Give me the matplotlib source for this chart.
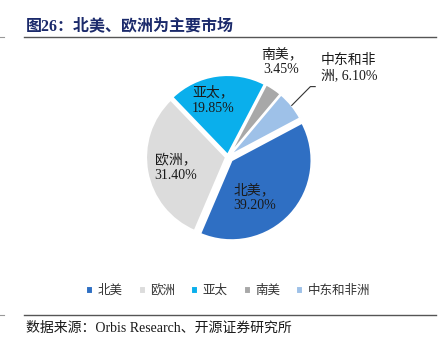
"""
图26：北美、欧洲为主要市场 —— 饼图复刻
"""
import matplotlib
matplotlib.use("Agg")
import matplotlib.pyplot as plt
from matplotlib.lines import Line2D
import numpy as np

# 数据
regions = ["北美", "欧洲", "亚太", "南美", "中东和非洲"]
shares = [39.20, 31.40, 19.85, 3.45, 6.10]
label_texts = ["北美，\n39.20%", "欧洲，\n31.40%", "亚太，\n19.85%",
               "南美，\n3.45%", "中东和非\n洲, 6.10%"]
colors = ["#2F6FC3", "#DCDCDC", "#0AAFEC", "#A8A8A8", "#9EC1E8"]

FONT = ["Liberation Serif", "Noto Sans CJK SC", "DejaVu Sans"]
plt.rcParams["font.family"] = FONT

W, H = 447, 345
fig = plt.figure(figsize=(W / 100, H / 100), dpi=100)


def px(x, y):
    # 像素坐标 -> 画布坐标
    return x / W, 1 - y / H


# 饼图区域：中心 (228,157)，半径 80px
cx, cy, half = 228, 157, 100
ax = fig.add_axes([(cx - half) / W, 1 - (cy + half) / H, 2 * half / W, 2 * half / H])
wedges, _ = ax.pie(shares, colors=colors, startangle=28, counterclock=False,
                   explode=[0.06, 0.025, 0.025, 0.025, 0.025],
                   wedgeprops=dict(edgecolor="white", linewidth=1.5))
ax.set_xlim(-1.25, 1.25)
ax.set_ylim(-1.25, 1.25)
ax.set_aspect("equal")
ax.axis("off")

# 标签位置（数据坐标）
label_pos = [(0.33, -0.51), (-0.65, -0.14), (-0.18, 0.71), (0.67, 1.19), (1.51, 1.11)]
for txt, (lx, ly) in zip(label_texts, label_pos):
    ax.text(lx, ly, txt, ha="center", va="center", fontsize=10,
            color="#1a1a1a", linespacing=1.25, family=FONT)

# 中东和非洲引导线
w = wedges[4]
mid = np.deg2rad((w.theta1 + w.theta2) / 2)
x0 = w.center[0] + w.r * np.cos(mid)
y0 = w.center[1] + w.r * np.sin(mid)
ax.plot([x0, 1.03, 1.09], [y0, 0.88, 0.88], color="#333333", lw=0.8,
        clip_on=False)

# 标题
fig.text(*px(26, 26), "图26：北美、欧洲为主要市场", fontsize=11.5, fontweight="bold",
         color="#1B2A6B", va="center", ha="left", family=FONT)

# 横线
for yy in (37, 315):
    fig.add_artist(Line2D([24 / W, 436 / W], [1 - yy / H] * 2, color="#555555", lw=1))
    fig.add_artist(Line2D([0, 4 / W], [1 - yy / H] * 2, color="#999999", lw=0.8))

# 图例
fig.legend(wedges, regions, loc="center", bbox_to_anchor=px(228, 291), ncol=5,
           frameon=False, fontsize=9, handlelength=0.55, handleheight=0.55,
           handletextpad=0.35, columnspacing=1.3, labelcolor="#333333")

# 数据来源
fig.text(*px(26, 328), "数据来源：Orbis Research、开源证券研究所", fontsize=10,
         color="#1a1a1a", va="center", ha="left", family=FONT)

fig.savefig("out.png", dpi=100)
